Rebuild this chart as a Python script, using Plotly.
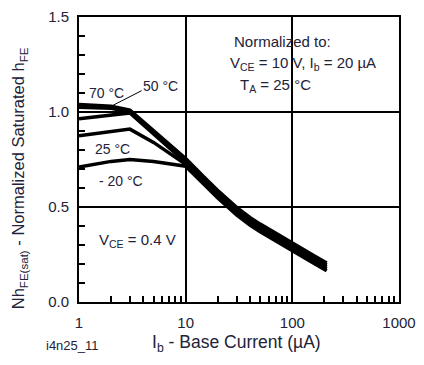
import plotly.graph_objects as go

# Base current (µA) sample points along each curve
ib = [1, 2, 3, 5, 10, 15, 20, 30, 40, 50, 70, 100, 150, 210]

# Normalized saturated hFE per ambient temperature
h_70c = [1.04, 1.03, 1.01, 0.90, 0.755, 0.655, 0.587, 0.498, 0.445, 0.41, 0.36, 0.31, 0.252, 0.205]
h_50c = [1.025, 1.02, 1.00, 0.895, 0.745, 0.645, 0.577, 0.488, 0.435, 0.40, 0.35, 0.30, 0.242, 0.195]
h_mid = [0.965, 0.985, 0.995, 0.885, 0.735, 0.635, 0.567, 0.478, 0.425, 0.39, 0.34, 0.29, 0.232, 0.185]
h_25c = [0.875, 0.895, 0.91, 0.84, 0.725, 0.625, 0.557, 0.468, 0.415, 0.38, 0.33, 0.28, 0.222, 0.175]
h_m20c = [0.71, 0.74, 0.75, 0.74, 0.715, 0.615, 0.547, 0.458, 0.405, 0.37, 0.32, 0.27, 0.212, 0.165]

curves = [h_70c, h_50c, h_mid, h_25c, h_m20c]

y_ticks = [0.0, 0.5, 1.0, 1.5]
y_minor = [0.1, 0.2, 0.3, 0.4, 0.6, 0.7, 0.8, 0.9, 1.1, 1.2, 1.3, 1.4]
x_ticks = [1, 10, 100, 1000]
x_minor = [m * d for d in (1, 10, 100) for m in range(2, 10)]

FONT = "Liberation Sans, Arial, sans-serif"
TXT = "#222238"

fig = go.Figure()
for ys in curves:
    fig.add_trace(go.Scatter(
        x=ib, y=ys, mode="lines",
        line=dict(color="black", width=3.5),
        showlegend=False, hoverinfo="skip",
    ))

fig.update_layout(
    width=424, height=365,
    margin=dict(l=79, r=18, t=8, b=63),
    paper_bgcolor="white", plot_bgcolor="white",
    font=dict(family=FONT, color=TXT, size=14),
    xaxis=dict(
        type="log", range=[0, 3],
        tickvals=x_ticks, ticktext=[str(v) for v in x_ticks],
        showgrid=True, gridcolor="black", gridwidth=1.5,
        showline=True, linecolor="black", linewidth=2, mirror=True,
        ticks="", zeroline=False, ticklabelstandoff=6,
        minor=dict(tickvals=x_minor, ticks="inside", ticklen=6,
                   tickwidth=1.5, tickcolor="black", showgrid=False),
        tickfont=dict(size=15, color=TXT),
    ),
    yaxis=dict(
        range=[0, 1.5],
        tickvals=y_ticks, tickformat=".1f",
        showgrid=True, gridcolor="black", gridwidth=1.5,
        showline=True, linecolor="black", linewidth=2, mirror=True,
        ticks="", zeroline=False, ticklabelstandoff=5,
        minor=dict(tickvals=y_minor, ticks="inside", ticklen=6,
                   tickwidth=1.5, tickcolor="black", showgrid=False),
        tickfont=dict(size=15, color=TXT),
    ),
)

def note(text, x, y, size=14, xanchor="center", angle=0):
    fig.add_annotation(
        text=text, x=x, y=y, xref="paper", yref="paper",
        xanchor=xanchor, yanchor="middle", showarrow=False,
        textangle=angle, font=dict(size=size, color=TXT, family=FONT),
    )

# Plot-area pixel helpers for placing free text
def px(xp):
    return (xp - 79) / 327

def py(yp):
    return (302 - yp) / 294

note("Normalized to:", px(287), py(33), size=15)
note("V<sub>CE</sub> = 10 V, I<sub>b</sub> = 20 µA", px(308), py(56), size=15)
note("T<sub>A</sub> = 25 °C", px(280), py(79), size=15)
note("70 °C", px(107), py(86), size=14)
note("50 °C", px(162), py(79), size=14)
note("25 °C", px(113), py(144), size=14)
note("- 20 °C", px(122), py(177), size=14)
note("V<sub>CE</sub> = 0.4 V", px(139), py(239), size=15)
note("I<sub>b</sub> - Base Current (µA)", px(240), py(345), size=17.5)
note("i4n25_11", px(72), py(347), size=13)
note("Nh<sub>FE(sat)</sub> - Normalized Saturated h<sub>FE</sub>",
     px(18), py(174), size=16.5, angle=-90)

# Leader from the 50 °C label to its curve
fig.add_shape(type="line", xref="x", yref="y",
              x0=10 ** ((143 - 79) / 109), y0=(302 - 84) / 196,
              x1=10 ** ((112 - 79) / 109), y1=(302 - 100) / 196,
              line=dict(color="black", width=1))

fig.write_html("out.html")
